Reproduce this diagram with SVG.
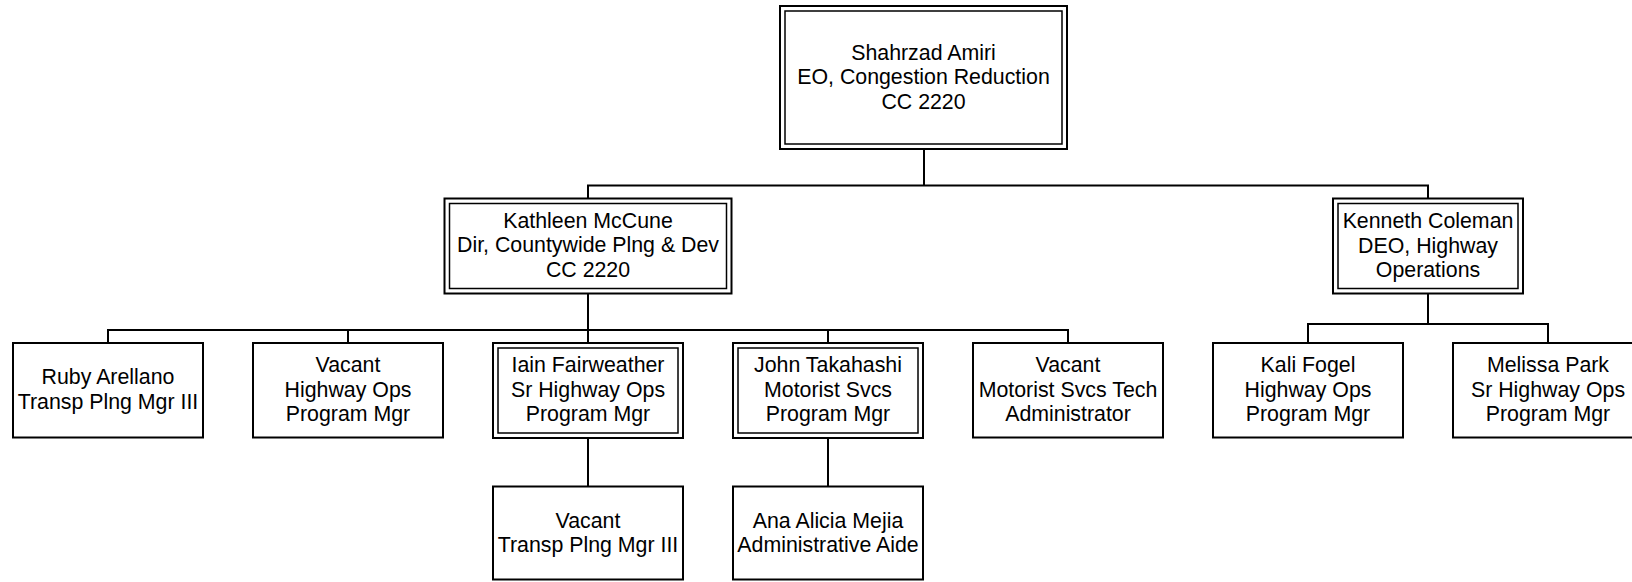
<svg xmlns="http://www.w3.org/2000/svg" width="1632" height="582" viewBox="0 0 1632 582">
<style>
.bg{fill:#ffffff}
.box{fill:#ffffff;stroke:#000000;stroke-width:2}
.inner{fill:none;stroke:#000000;stroke-width:1.5}
.conn{fill:none;stroke:#000000;stroke-width:2;stroke-linecap:square}
text{font-family:"Liberation Sans",Arial,sans-serif;font-size:21.33px;fill:#000000;text-anchor:middle}
</style>
<rect class="bg" x="0" y="0" width="1632" height="582"/>
<g id="connectors">
<path class="conn" d="M924 149 V185.5 M588 185.5 H1428 M588 185.5 V198.5 M1428 185.5 V198.5"/>
<path class="conn" d="M588 293.5 V330 M108 330 H1068 M108 330 V343 M348 330 V343 M588 330 V343 M828 330 V343 M1068 330 V343"/>
<path class="conn" d="M1428 293.5 V324 M1308 324 H1548 M1308 324 V343 M1548 324 V343"/>
<path class="conn" d="M588 438 V486.5 M828 438 V486.5"/>
</g>
<g id="node-amiri">
<rect class="box" x="780" y="6" width="287" height="143"/>
<rect class="inner" x="785" y="11" width="277" height="133"/>
<text x="923.5" y="59.5">Shahrzad Amiri</text>
<text x="923.5" y="84">EO, Congestion Reduction</text>
<text x="923.5" y="108.5">CC 2220</text>
</g>
<g id="node-mccune">
<rect class="box" x="444.5" y="198.5" width="287" height="95"/>
<rect class="inner" x="449.5" y="203.5" width="277" height="85"/>
<text x="588" y="227.5">Kathleen McCune</text>
<text x="588" y="252">Dir, Countywide Plng &amp; Dev</text>
<text x="588" y="276.5">CC 2220</text>
</g>
<g id="node-coleman">
<rect class="box" x="1333" y="198.5" width="190" height="95"/>
<rect class="inner" x="1338" y="203.5" width="180" height="85"/>
<text x="1428" y="228">Kenneth Coleman</text>
<text x="1428" y="252.5">DEO, Highway</text>
<text x="1428" y="277">Operations</text>
</g>
<g id="node-arellano">
<rect class="box" x="13" y="343" width="190" height="94.5"/>
<text x="108" y="384">Ruby Arellano</text>
<text x="108" y="408.5">Transp Plng Mgr III</text>
</g>
<g id="node-vacant-hwy">
<rect class="box" x="253" y="343" width="190" height="94.5"/>
<text x="348" y="372">Vacant</text>
<text x="348" y="396.5">Highway Ops</text>
<text x="348" y="421">Program Mgr</text>
</g>
<g id="node-fairweather">
<rect class="box" x="493" y="343" width="190" height="95"/>
<rect class="inner" x="498" y="348" width="180" height="85"/>
<text x="588" y="372">Iain Fairweather</text>
<text x="588" y="396.5">Sr Highway Ops</text>
<text x="588" y="421">Program Mgr</text>
</g>
<g id="node-takahashi">
<rect class="box" x="733" y="343" width="190" height="95"/>
<rect class="inner" x="738" y="348" width="180" height="85"/>
<text x="828" y="372">John Takahashi</text>
<text x="828" y="396.5">Motorist Svcs</text>
<text x="828" y="421">Program Mgr</text>
</g>
<g id="node-vacant-motorist">
<rect class="box" x="973" y="343" width="190" height="94.5"/>
<text x="1068" y="372">Vacant</text>
<text x="1068" y="396.5">Motorist Svcs Tech</text>
<text x="1068" y="421">Administrator</text>
</g>
<g id="node-fogel">
<rect class="box" x="1213" y="343" width="190" height="94.5"/>
<text x="1308" y="372">Kali Fogel</text>
<text x="1308" y="396.5">Highway Ops</text>
<text x="1308" y="421">Program Mgr</text>
</g>
<g id="node-park">
<rect class="box" x="1453" y="343" width="190" height="94.5"/>
<text x="1548" y="372">Melissa Park</text>
<text x="1548" y="396.5">Sr Highway Ops</text>
<text x="1548" y="421">Program Mgr</text>
</g>
<g id="node-vacant-transp">
<rect class="box" x="493" y="486.5" width="190" height="93"/>
<text x="588" y="527.5">Vacant</text>
<text x="588" y="552">Transp Plng Mgr III</text>
</g>
<g id="node-mejia">
<rect class="box" x="733" y="486.5" width="190" height="93"/>
<text x="828" y="527.5">Ana Alicia Mejia</text>
<text x="828" y="552">Administrative Aide</text>
</g>
</svg>
